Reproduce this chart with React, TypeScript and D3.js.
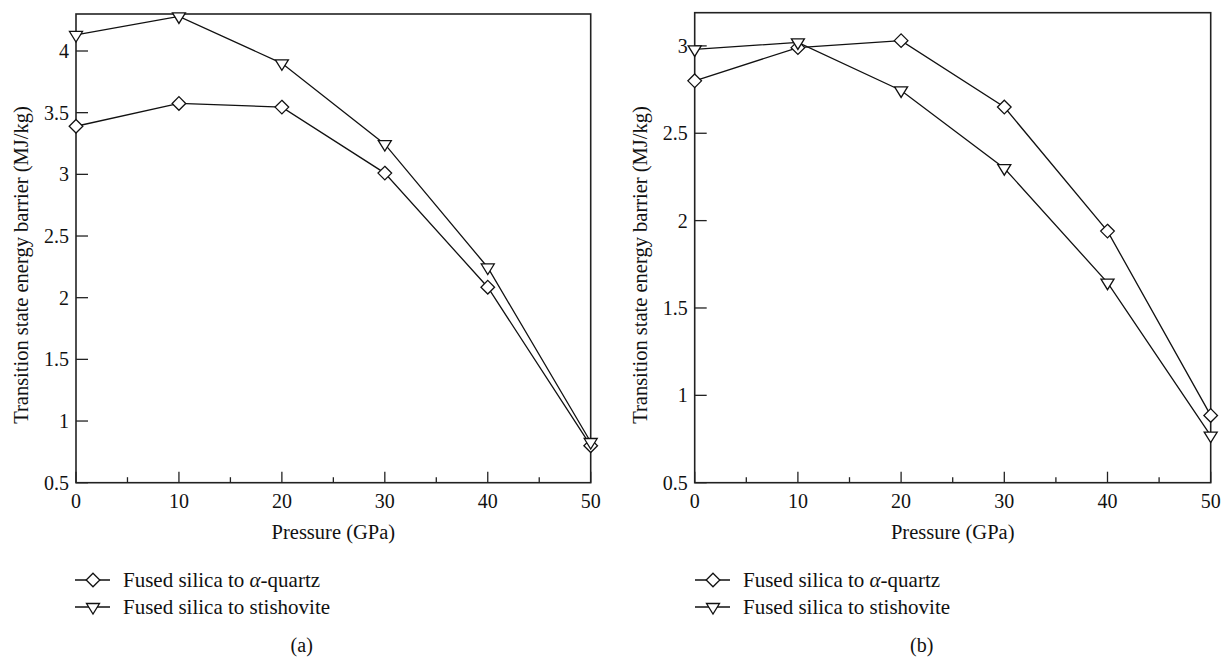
import React from "react";
import * as d3 from "d3";

const pressure = [0, 10, 20, 30, 40, 50];
const quartzA = [3.39, 3.575, 3.545, 3.01, 2.085, 0.8];
const stishA = [4.13, 4.28, 3.9, 3.245, 2.245, 0.83];
const quartzB = [2.8, 2.99, 3.03, 2.65, 1.94, 0.885];
const stishB = [2.98, 3.02, 2.745, 2.3, 1.645, 0.77];
const yTicksA = [0.5, 1, 1.5, 2, 2.5, 3, 3.5, 4];
const yTicksB = [0.5, 1, 1.5, 2, 2.5, 3];
const xTicks = [0, 10, 20, 30, 40, 50];
const xMinor = [5, 15, 25, 35, 45];
const seriesNames = ["Fused silica to ", "Fused silica to stishovite"];
const yLabel = "Transition state energy barrier (MJ/kg)";
const xLabel = "Pressure (GPa)";

const FONT = '"Liberation Serif", "DejaVu Serif", "Times New Roman", serif';

const diamondPath = (s: number) => `M0,${-s}L${s},0L0,${s}L${-s},0Z`;
const triPath = (w: number, h: number) =>
  `M${-w / 2},${-h / 3}L${w / 2},${-h / 3}L0,${(2 * h) / 3}Z`;

type PanelProps = {
  left: number;
  right: number;
  top: number;
  bottom: number;
  yMax: number;
  yTicks: number[];
  quartz: number[];
  stish: number[];
  caption: string;
  captionX: number;
  legendX: number;
};

function Panel(p: PanelProps) {
  const x = d3.scaleLinear().domain([0, 50]).range([p.left, p.right]);
  const y = d3.scaleLinear().domain([0.5, p.yMax]).range([p.bottom, p.top]);
  const line = d3
    .line<number>()
    .x((_, i) => x(pressure[i]))
    .y((d) => y(d));
  const dPath = diamondPath(6.8);
  const tPath = triPath(13, 10.5);
  const midY = 265;
  return (
    <g style={{ fontFamily: FONT }} fill="#111">
      <rect
        x={p.left}
        y={p.top}
        width={p.right - p.left}
        height={p.bottom - p.top}
        fill="none"
        stroke="#222"
        strokeWidth={1.6}
      />
      {p.yTicks.map((t) => (
        <g key={"y" + t}>
          <line x1={p.left} x2={p.left + 12} y1={y(t)} y2={y(t)} stroke="#222" strokeWidth={1.3} />
          <text
            x={p.left - 7}
            y={y(t)}
            textAnchor="end"
            dominantBaseline="central"
            fontSize={20}
          >
            {String(t)}
          </text>
        </g>
      ))}
      {xTicks.map((t) => (
        <g key={"x" + t}>
          <line x1={x(t)} x2={x(t)} y1={p.bottom} y2={p.bottom - 11} stroke="#222" strokeWidth={1.3} />
          <text x={x(t)} y={508} textAnchor="middle" fontSize={20}>
            {String(t)}
          </text>
        </g>
      ))}
      {xMinor.map((t) => (
        <line key={"m" + t} x1={x(t)} x2={x(t)} y1={p.bottom} y2={p.bottom - 5.5} stroke="#222" strokeWidth={1.3} />
      ))}
      <text x={(p.left + p.right) / 2} y={539} textAnchor="middle" fontSize={20.5}>
        {xLabel}
      </text>
      <text
        transform={`translate(${p.left - 48},${midY}) rotate(-90)`}
        textAnchor="middle"
        fontSize={20.5}
      >
        {yLabel}
      </text>
      <path d={line(p.quartz) || ""} fill="none" stroke="#111" strokeWidth={1.3} />
      <path d={line(p.stish) || ""} fill="none" stroke="#111" strokeWidth={1.3} />
      {p.quartz.map((v, i) => (
        <path key={"q" + i} d={dPath} transform={`translate(${x(pressure[i])},${y(v)})`} fill="#fff" stroke="#111" strokeWidth={1.3} />
      ))}
      {p.stish.map((v, i) => (
        <path key={"s" + i} d={tPath} transform={`translate(${x(pressure[i])},${y(v)})`} fill="#fff" stroke="#111" strokeWidth={1.3} />
      ))}
      <g>
        <line x1={p.legendX} x2={p.legendX + 35} y1={580} y2={580} stroke="#111" strokeWidth={1.3} />
        <path d={dPath} transform={`translate(${p.legendX + 18},580)`} fill="#fff" stroke="#111" strokeWidth={1.3} />
        <text x={p.legendX + 48} y={580} dominantBaseline="central" fontSize={21}>
          {seriesNames[0]}
          <tspan fontStyle="italic">α</tspan>
          -quartz
        </text>
        <line x1={p.legendX} x2={p.legendX + 35} y1={607} y2={607} stroke="#111" strokeWidth={1.3} />
        <path d={tPath} transform={`translate(${p.legendX + 18},607)`} fill="#fff" stroke="#111" strokeWidth={1.3} />
        <text x={p.legendX + 48} y={607} dominantBaseline="central" fontSize={21}>
          {seriesNames[1]}
        </text>
      </g>
      <text x={p.captionX} y={652} textAnchor="middle" fontSize={20}>
        {p.caption}
      </text>
    </g>
  );
}

export default function App() {
  return (
    <svg
      width={1223}
      height={657}
      style={{ position: "absolute", left: 0, top: 0, background: "#fff", fontFamily: FONT }}
    >
      <rect width={1223} height={657} fill="#fff" />
      <Panel
        left={76}
        right={590.7}
        top={14}
        bottom={482.7}
        yMax={4.3}
        yTicks={yTicksA}
        quartz={quartzA}
        stish={stishA}
        caption="(a)"
        captionX={301.7}
        legendX={75}
      />
      <Panel
        left={694.7}
        right={1210.7}
        top={12.7}
        bottom={482.7}
        yMax={3.19}
        yTicks={yTicksB}
        quartz={quartzB}
        stish={stishB}
        caption="(b)"
        captionX={921.7}
        legendX={695}
      />
    </svg>
  );
}
